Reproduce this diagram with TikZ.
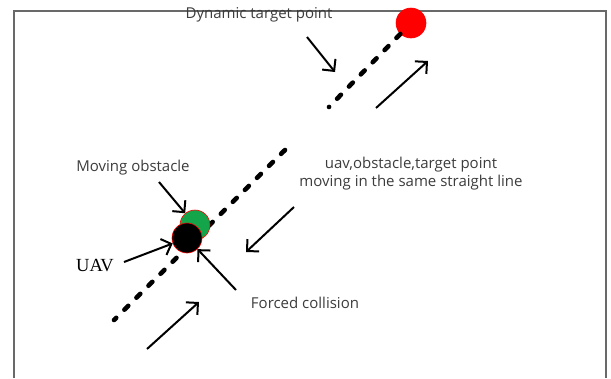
\documentclass[tikz,border=0pt]{standalone}
\usepackage{fontspec}
\setmainfont{Open Sans}
\newfontfamily\uavfont{Liberation Serif}
\usetikzlibrary{arrows.meta}
\definecolor{obsgreen}{RGB}{20,165,75}
\definecolor{labelgray}{RGB}{60,60,60}
\definecolor{framegray}{RGB}{105,105,105}
\begin{document}
\begin{tikzpicture}[x=1pt, y=-1pt,
	every node/.style={font=\fontsize{15}{18}\selectfont, text=labelgray, align=center, inner sep=0pt},
	ball/.style={circle, minimum size=30pt, draw=red, line width=0.6pt},
	track/.style={line width=4.6pt, line cap=round, dash pattern=on 5.5pt off 11.5pt},
	move/.style={line width=2pt, -{Straight Barb[length=8.5pt, width=17pt]}}
	]
	\useasboundingbox (0,0) rectangle (611,378);
	\draw[framegray, line width=1.2pt] (14,378) -- (14,11) -- (606,11) -- (606,378);

	\coordinate (upend) at (329,107);
	\coordinate (lowtop) at (285,150);
	\coordinate (lowend) at (114,320);
	\node[ball, fill=red] (target) at (411,23) {};
	\draw[track] (target) -- (upend);
	\draw[track] (lowtop) -- (lowend);
	\node[ball, fill=obsgreen] (obstacle) at (195,225) {};
	\node[ball, fill=black] (uav) at (187,238) {};

	\node (dtplabel) at (259,15) {Dynamic target point};
	\node (obslabel) at (133,168) {Moving obstacle};
	\node[font=\uavfont\fontsize{18.5}{20}\selectfont, text=black] (uavlabel) at (95,266) {UAV};
	\node (collabel) at (305,303) {Forced collision};
	\node (linelabel) at (411,174) {uav,obstacle,target point\\moving in the same straight line};

	\coordinate (dtptail) at (307,37);
	\coordinate (dtphead) at (335,72);
	\coordinate (uptail) at (376,108);
	\coordinate (uphead) at (428,61);
	\coordinate (midtail) at (294,207);
	\coordinate (midhead) at (246,252);
	\coordinate (lowtail) at (147,349);
	\coordinate (lowhead) at (199,302);
	\coordinate (obstail) at (159,182);
	\coordinate (uavtail) at (124,262);
	\coordinate (coltail) at (236,290);
	\draw[move] (dtptail) -- (dtphead);
	\draw[move] (uptail) -- (uphead);
	\draw[move] (midtail) -- (midhead);
	\draw[move] (lowtail) -- (lowhead);
	\draw[move] (obstail) -- (obstacle);
	\draw[move] (uavtail) -- (uav);
	\draw[move] (coltail) -- (uav);
\end{tikzpicture}
\end{document}
